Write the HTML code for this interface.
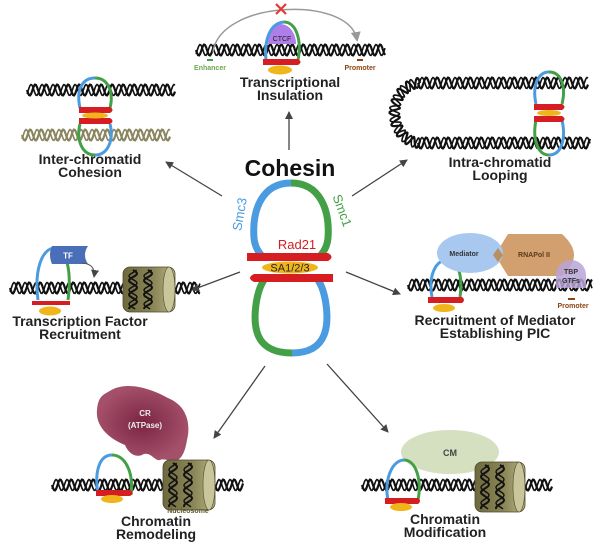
<!DOCTYPE html>
<html><head><meta charset="utf-8"><style>
html,body{margin:0;padding:0;background:#fff;}
svg{display:block;font-family:"Liberation Sans",sans-serif;}
.t{font-weight:bold;font-size:14px;fill:#222;text-anchor:middle;}
</style></head><body>
<svg id="s" width="600" height="544" viewBox="0 0 600 544" xmlns="http://www.w3.org/2000/svg">
<defs>
<marker id="ah" markerWidth="8" markerHeight="8" refX="7" refY="4" orient="auto" markerUnits="userSpaceOnUse"><path d="M0,0 L8,4 L0,8 Z" fill="#444"/></marker>
<marker id="ahg" markerWidth="10" markerHeight="10" refX="8" refY="5" orient="auto" markerUnits="userSpaceOnUse"><path d="M0,0 L10,5 L0,10 Z" fill="#999"/></marker>
<linearGradient id="nuc" x1="0" x2="1"><stop offset="0" stop-color="#6e6a3e"/><stop offset="0.6" stop-color="#8c8758"/><stop offset="1" stop-color="#b8b488"/></linearGradient>
<radialGradient id="cr"><stop offset="0" stop-color="#7a2442"/><stop offset="1" stop-color="#a4506a"/></radialGradient>
</defs>
<g id="dna"></g>

<g stroke="#444" stroke-width="1.3" fill="none" marker-end="url(#ah)">
<line x1="289" y1="150" x2="289" y2="112"/>
<line x1="222" y1="196" x2="166" y2="162"/>
<line x1="352" y1="196" x2="407" y2="160"/>
<line x1="240" y1="272" x2="192" y2="290"/>
<line x1="346" y1="272" x2="400" y2="294"/>
<line x1="265" y1="366" x2="214" y2="438"/>
<line x1="327" y1="364" x2="388" y2="432"/>
</g>

<text x="290" y="176" font-size="23" font-weight="bold" text-anchor="middle" fill="#111">Cohesin</text>
<path d="M291,183 C262,183 252,210 254,238 C255,250 262,256 264,258" stroke="#4a9be0" stroke-width="7" fill="none"/>
<path d="M291,183 C320,183 330,210 328,238 C327,250 320,256 318,258" stroke="#43a047" stroke-width="7" fill="none"/>
<path d="M264,280 C256,292 252,320 258,335 C264,350 280,353 292,353" stroke="#43a047" stroke-width="7" fill="none"/>
<path d="M318,280 C326,292 330,320 324,335 C318,350 304,353 292,353" stroke="#4a9be0" stroke-width="7" fill="none"/>
<path d="M247,253 L328,253 Q335,257 328,261 L247,261 Z" fill="#d61e22"/>
<path d="M254,274 L333,274 L333,282 L254,282 Q246,278 254,274 Z" fill="#d61e22"/>
<ellipse cx="290" cy="267.5" rx="28" ry="6" fill="#f1b51c"/>
<text x="290" y="271.5" font-size="11" text-anchor="middle" fill="#222">SA1/2/3</text>
<text x="297" y="249" font-size="13" text-anchor="middle" fill="#d61e22">Rad21</text>
<text transform="translate(244,215) rotate(-80)" font-size="13" text-anchor="middle" fill="#4a9be0">Smc3</text>
<text transform="translate(338,212) rotate(70)" font-size="13" text-anchor="middle" fill="#43a047">Smc1</text>

<path d="M213,52 C220,0 350,-5 357,40" stroke="#999" stroke-width="1.5" fill="none" marker-end="url(#ahg)"/>
<path d="M276,4 L286,14 M286,4 L276,14" stroke="#e53935" stroke-width="2.2"/>
<path d="M268,44 C268,30 274,24 280,24 C290,24 296,34 296,44 Z" fill="#b07ee8"/>
<text x="282" y="41" font-size="7" text-anchor="middle" fill="#222">CTCF</text>
<path d="M266,60 C264,40 270,23 284,22" stroke="#4a9be0" stroke-width="3" fill="none"/>
<path d="M284,22 C296,22 302,40 298,60" stroke="#43a047" stroke-width="3" fill="none"/>
<path d="M263,59 L298,59 Q303,62 298,65 L263,65 Z" fill="#d61e22"/>
<ellipse cx="280" cy="70" rx="12" ry="4.5" fill="#f1b51c"/>
<rect x="207" y="59" width="6" height="2" fill="#43a047"/>
<rect x="357" y="59" width="6" height="2" fill="#8b4513"/>
<text x="210" y="70" font-size="7" font-weight="bold" text-anchor="middle" fill="#6aa84f">Enhancer</text>
<text x="360" y="70" font-size="7" font-weight="bold" text-anchor="middle" fill="#8b4513">Promoter</text>
<text class="t" x="290" y="87">Transcriptional</text>
<text class="t" x="290" y="100">Insulation</text>

<path d="M80,108 C76,90 82,78 95,78" stroke="#4a9be0" stroke-width="3" fill="none"/>
<path d="M95,78 C108,78 114,92 110,108" stroke="#43a047" stroke-width="3" fill="none"/>
<path d="M80,124 C76,140 82,155 95,155" stroke="#43a047" stroke-width="3" fill="none"/>
<path d="M95,155 C108,155 114,140 110,124" stroke="#4a9be0" stroke-width="3" fill="none"/>
<path d="M79,107 L110,107 Q115,110 110,113 L79,113 Z" fill="#d61e22"/>
<path d="M79,118 L110,118 Q115,121 110,124 L79,124 Z" fill="#d61e22"/>
<ellipse cx="95" cy="115.5" rx="13" ry="3" fill="#f1b51c"/>
<text class="t" x="90" y="164">Inter-chromatid</text>
<text class="t" x="90" y="177">Cohesion</text>

<path d="M536,104 C532,86 538,72 549,72" stroke="#4a9be0" stroke-width="3" fill="none"/>
<path d="M549,72 C562,72 566,88 562,104" stroke="#43a047" stroke-width="3" fill="none"/>
<path d="M536,120 C532,140 538,155 549,155" stroke="#43a047" stroke-width="3" fill="none"/>
<path d="M549,155 C562,155 566,138 562,120" stroke="#4a9be0" stroke-width="3" fill="none"/>
<path d="M534,104 L562,104 Q567,107 562,110 L534,110 Z" fill="#d61e22"/>
<path d="M534,116 L562,116 Q567,119 562,122 L534,122 Z" fill="#d61e22"/>
<ellipse cx="549" cy="113" rx="12" ry="3" fill="#f1b51c"/>
<text class="t" x="500" y="167">Intra-chromatid</text>
<text class="t" x="500" y="180">Looping</text>

<path d="M38,300 C34,270 42,248 55,248" stroke="#4a9be0" stroke-width="3" fill="none"/>
<path d="M55,248 C66,248 72,270 68,300" stroke="#43a047" stroke-width="3" fill="none"/>
<path d="M52,246 L88,246 Q82,255 88,264 L52,264 Q48,255 52,246 Z" fill="#4a6fb8"/>
<text x="68" y="258.5" font-size="8" font-weight="bold" text-anchor="middle" fill="#fff">TF</text>
<path d="M82,263 Q96,264 94,277" stroke="#555" stroke-width="1" fill="none" marker-end="url(#ah)"/>
<rect x="32" y="301" width="38" height="4" fill="#d61e22"/>
<ellipse cx="50" cy="311" rx="11" ry="4.5" fill="#f1b51c"/>
<g id="n1"></g>
<text class="t" x="80" y="326">Transcription Factor</text>
<text class="t" x="80" y="339">Recruitment</text>

<path d="M432,297 C428,275 436,260 447,260" stroke="#4a9be0" stroke-width="3" fill="none"/>
<path d="M447,260 C458,260 463,275 460,297" stroke="#43a047" stroke-width="3" fill="none"/>
<path d="M508,234 L562,234 Q574,245 574,255 Q574,265 562,276 L508,276 L495,255 Z" fill="#d2a06e"/>
<ellipse cx="470" cy="253" rx="33" ry="20" fill="#a8c8ef"/>
<path d="M498,248 L503,255 L498,262 L493,255 Z" fill="#b88f60"/>
<text x="464" y="256" font-size="7" font-weight="bold" text-anchor="middle" fill="#333">Mediator</text>
<text x="534" y="257" font-size="7" font-weight="bold" text-anchor="middle" fill="#5a3a1a">RNAPol II</text>
<path d="M556,288 L556,275 A15,15 0 0 1 586,275 L586,288 Z" fill="#b9a4d8" opacity="0.85"/>
<text x="571" y="274" font-size="7" font-weight="bold" text-anchor="middle" fill="#333">TBP</text>
<text x="571" y="283" font-size="7" font-weight="bold" text-anchor="middle" fill="#333">GTFs</text>
<rect x="568" y="298" width="7" height="2" fill="#8b4513"/>
<text x="573" y="308" font-size="7" font-weight="bold" text-anchor="middle" fill="#8b4513">Promoter</text>
<path d="M428,297 L462,297 Q466,300 462,303 L428,303 Z" fill="#d61e22"/>
<ellipse cx="444" cy="308" rx="11" ry="4" fill="#f1b51c"/>
<text class="t" x="495" y="325">Recruitment of Mediator</text>
<text class="t" x="495" y="338">Establishing PIC</text>

<path d="M98,495 C94,470 100,455 112,455" stroke="#4a9be0" stroke-width="3" fill="none"/>
<path d="M112,455 C124,455 134,470 131,495" stroke="#43a047" stroke-width="3" fill="none"/>
<path d="M108,392 C125,380 150,388 168,398 C185,405 190,420 188,435 C186,445 185,455 178,460 C170,462 164,458 160,460 C155,462 150,450 142,455 C134,458 128,452 125,445 C112,440 95,428 97,410 C98,400 100,396 108,392 Z" fill="url(#cr)"/>
<text x="145" y="416" font-size="8" font-weight="bold" text-anchor="middle" fill="#eee">CR</text>
<text x="145" y="428" font-size="8" font-weight="bold" text-anchor="middle" fill="#eee">(ATPase)</text>
<path d="M96,490 L130,490 Q135,493 130,496 L96,496 Z" fill="#d61e22"/>
<ellipse cx="112" cy="499" rx="11" ry="4" fill="#f1b51c"/>
<g id="n2"></g>
<text x="188" y="513" font-size="7" font-weight="bold" text-anchor="middle" fill="#5d5a30">Nucleosome</text>
<text class="t" x="156" y="526">Chromatin</text>
<text class="t" x="156" y="539">Remodeling</text>

<ellipse cx="450" cy="452" rx="49" ry="22" fill="#d5e0c0"/>
<text x="450" y="456" font-size="9" font-weight="bold" text-anchor="middle" fill="#444">CM</text>
<path d="M388,500 C384,480 392,460 404,460" stroke="#4a9be0" stroke-width="3" fill="none"/>
<path d="M404,460 C416,460 422,480 418,500" stroke="#43a047" stroke-width="3" fill="none"/>
<path d="M385,498 L418,498 Q422,501 418,504 L385,504 Z" fill="#d61e22"/>
<ellipse cx="401" cy="507" rx="11" ry="4" fill="#f1b51c"/>
<g id="n3"></g>
<text class="t" x="445" y="524">Chromatin</text>
<text class="t" x="445" y="537">Modification</text>
</svg>
<script>
var NS="http://www.w3.org/2000/svg";
function addPath(d,col,w){var p=document.createElementNS(NS,"path");p.setAttribute("d",d);p.setAttribute("stroke",col);p.setAttribute("stroke-width",w);p.setAttribute("fill","none");document.getElementById("dna").appendChild(p);}
function dna(x1,x2,y,col,amp,per){
  col=col||"#111";amp=amp||5.5;per=per||11;
  for(var k=0;k<2;k++){
    var d="";var ph=k*Math.PI*0.75;
    for(var x=x1;x<=x2;x+=1){var yy=y+amp*Math.sin((x-x1)/per*2*Math.PI+ph);d+=(x==x1?"M":"L")+x+","+yy.toFixed(2);}
    addPath(d,col,k?1.6:2.2);
  }
}
function nuc(id,x,y,w,h){
  var g=document.getElementById(id);
  var s='<rect x="'+x+'" y="'+y+'" width="'+w+'" height="'+h+'" rx="7" fill="url(#nuc)" stroke="#4c4a2a" stroke-width="0.8"/>'+
  '<ellipse cx="'+(x+w-6)+'" cy="'+(y+h/2)+'" rx="6" ry="'+(h/2)+'" fill="#c9c69c" stroke="#4c4a2a" stroke-width="0.6"/>';
  for(var c=0;c<2;c++){var cx=x+10+c*15;
    for(var k=0;k<2;k++){var d="";
      for(var t=0;t<=h-6;t++){var xx=cx+4*Math.sin(t/(h/3.2)*2*Math.PI+k*2);d+=(t?"L":"M")+xx.toFixed(1)+","+(y+3+t);}
      s+='<path d="'+d+'" stroke="#111" stroke-width="'+(k?1.4:2)+'" fill="none"/>';}}
  g.innerHTML=s;
}
dna(196,385,50);
dna(27,175,90);
dna(22,170,135,"#8a8560");
dna(418,588,83);
dna(418,590,143);
(function(){var cx=420,cy=113,r=30;
 for(var k=0;k<2;k++){var d="";
  for(var i=0;i<=120;i++){var a=Math.PI/2+i/120*Math.PI;var s=r*(a-Math.PI/2);
   var w=5*Math.sin(s/11*2*Math.PI+k*Math.PI*0.75);
   var x=cx+(r*0.85+w)*Math.cos(a),y=cy-(r+w)*Math.sin(a);d+=(i?"L":"M")+x.toFixed(1)+","+y.toFixed(1);}
  addPath(d,"#111",k?1.6:2.2);}})();
dna(10,123,288);dna(175,200,288);
dna(408,592,285);
dna(52,163,485);dna(215,243,485);
dna(362,475,485);dna(525,552,485);
nuc("n1",123,267,52,45);
nuc("n2",163,460,52,50);
nuc("n3",475,462,50,50);
</script>
</body></html>
